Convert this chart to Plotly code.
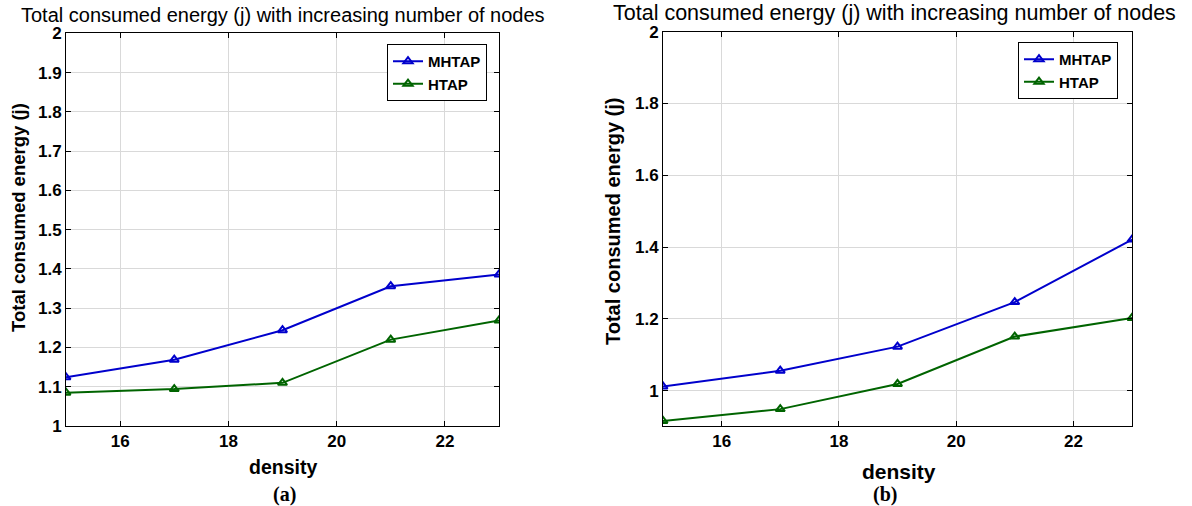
import plotly.graph_objects as go

density = [15, 17, 19, 21, 23]
mhtap_a = [1.124, 1.169, 1.244, 1.356, 1.386]
htap_a = [1.085, 1.094, 1.110, 1.220, 1.269]
mhtap_b = [1.012, 1.056, 1.123, 1.247, 1.421]
htap_b = [0.916, 0.949, 1.019, 1.151, 1.203]

title_text = "Total consumed energy (j) with increasing number of nodes"
ylab = "Total consumed energy (j)"
xlab = "density"

BLUE = "#0000CC"
GREEN = "#006400"
W, H = 1192, 506
FONT = "Liberation Sans"

fig = go.Figure()

def add_series(x, y, name, color, xa, ya, legend):
    fig.add_trace(go.Scatter(
        x=x, y=y, name=name, mode="lines+markers",
        line=dict(color=color, width=2),
        marker=dict(symbol="triangle-up-open", size=8, color=color, line=dict(width=2, color=color)),
        xaxis=xa, yaxis=ya, legend=legend))

add_series(density, mhtap_a, "MHTAP", BLUE, "x", "y", "legend")
add_series(density, htap_a, "HTAP", GREEN, "x", "y", "legend")
add_series(density, mhtap_b, "MHTAP", BLUE, "x2", "y2", "legend2")
add_series(density, htap_b, "HTAP", GREEN, "x2", "y2", "legend2")

tickfont = dict(family=FONT, size=17, color="black", weight="bold")
axis_common = dict(showline=True, linecolor="black", linewidth=1, mirror="ticks",
                   ticks="inside", ticklen=5, tickcolor="black",
                   showgrid=True, gridcolor="#d9d9d9", gridwidth=1,
                   zeroline=False, tickfont=tickfont, automargin=False)
legfont = dict(family=FONT, size=15, color="black", weight="bold")

fig.update_layout(
    width=W, height=H, margin=dict(l=0, r=0, t=0, b=0, autoexpand=False),
    paper_bgcolor="white", plot_bgcolor="white",
    xaxis=dict(domain=[66/W, 499/W], range=[15, 23], tickvals=[16, 18, 20, 22], anchor="y", **axis_common),
    yaxis=dict(domain=[1-426/H, 1-33.4/H], range=[1, 2], dtick=0.1, anchor="x", **axis_common),
    xaxis2=dict(domain=[663/W, 1132/W], range=[15, 23], tickvals=[16, 18, 20, 22], anchor="y2", **axis_common),
    yaxis2=dict(domain=[1-426/H, 1-31.7/H], range=[0.902, 2], tickvals=[1, 1.2, 1.4, 1.6, 1.8, 2], anchor="x2", **axis_common),
    legend=dict(x=487/W, xanchor="right", y=1-44/H, yanchor="top", bgcolor="white",
                bordercolor="black", borderwidth=1, font=legfont,
                tracegroupgap=0, itemwidth=30),
    legend2=dict(x=1118/W, xanchor="right", y=1-42/H, yanchor="top", bgcolor="white",
                 bordercolor="black", borderwidth=1, font=legfont,
                 tracegroupgap=0, itemwidth=30),
    showlegend=True,
)

annos = [
    dict(text=title_text, x=283/W, y=1-15/H, font=dict(family=FONT, size=20, color="black")),
    dict(text=title_text, x=894/W, y=1-13/H, font=dict(family=FONT, size=21.5, color="black")),
    dict(text=ylab, x=19/W, y=1-218/H, textangle=-90, font=dict(family=FONT, size=18.5, color="black", weight="bold")),
    dict(text=ylab, x=613/W, y=1-222/H, textangle=-90, font=dict(family=FONT, size=20, color="black", weight="bold")),
    dict(text=xlab, x=283/W, y=1-467/H, font=dict(family=FONT, size=19.5, color="black", weight="bold")),
    dict(text=xlab, x=899/W, y=1-471/H, font=dict(family=FONT, size=21, color="black", weight="bold")),
    dict(text="(a)", x=284/W, y=1-494/H, font=dict(family="Liberation Serif", size=20, color="black", weight="bold")),
    dict(text="(b)", x=885/W, y=1-494/H, font=dict(family="Liberation Serif", size=20, color="black", weight="bold")),
]
for a in annos:
    fig.add_annotation(xref="paper", yref="paper", showarrow=False, xanchor="center", yanchor="middle", **a)

fig.write_html("out.html", config={"displayModeBar": False},
               post_script="document.body.style.margin='0px';")
